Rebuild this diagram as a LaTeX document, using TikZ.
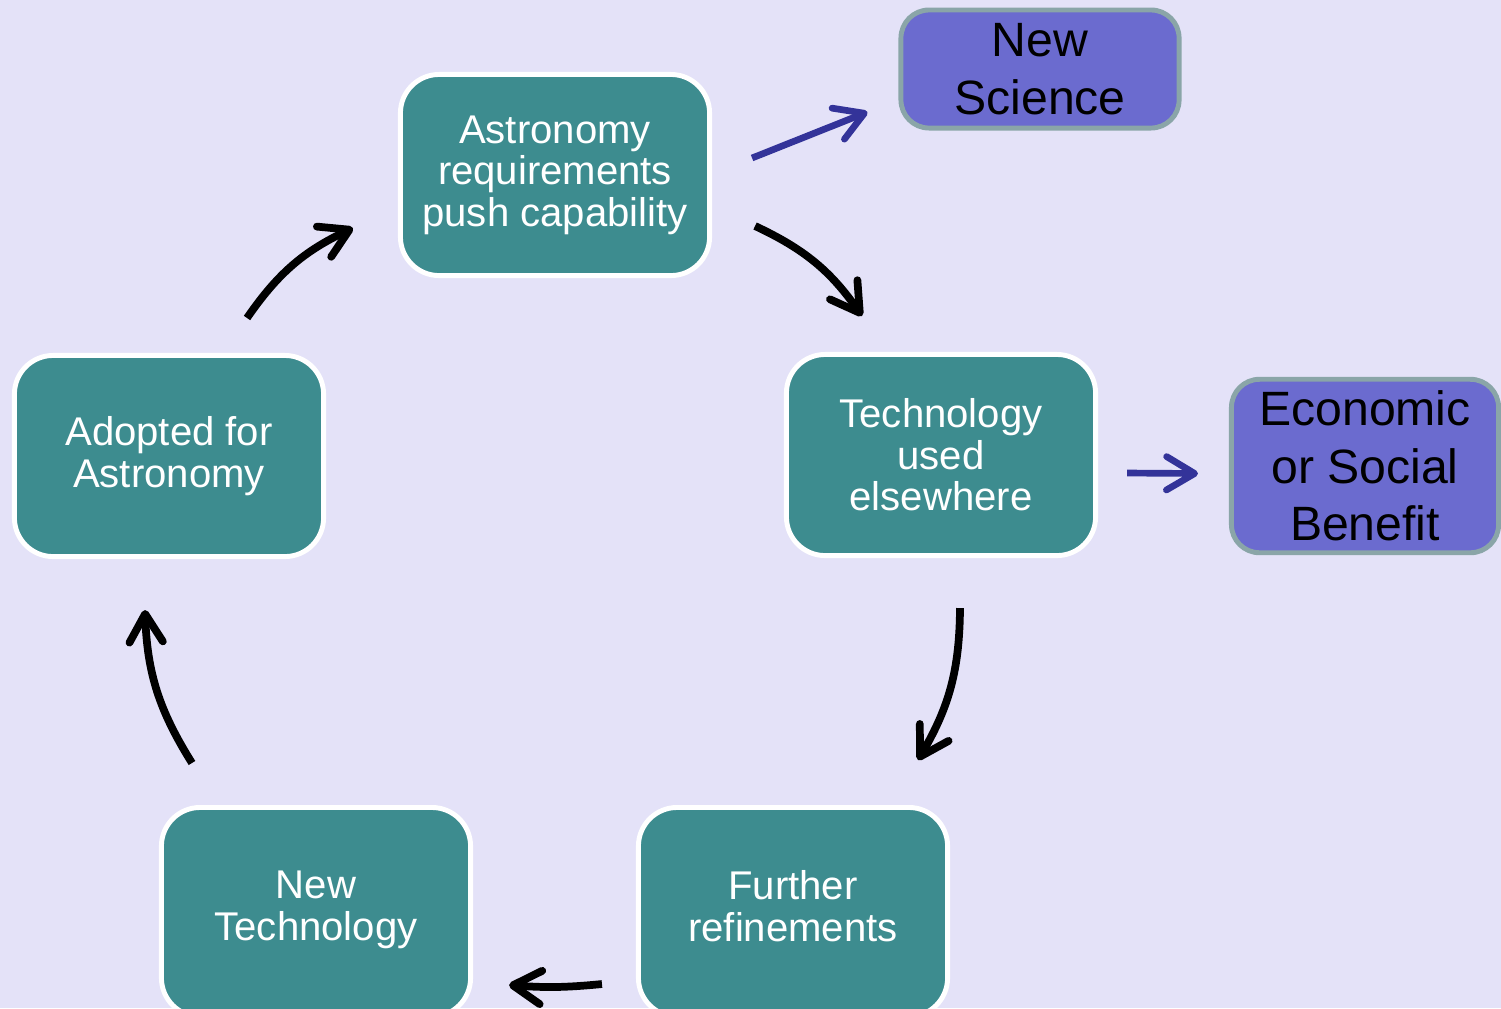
\documentclass[tikz,border=0pt]{standalone}
\usepackage{fontspec}
\setmainfont{Liberation Sans}
\usetikzlibrary{arrows.meta,calc}

\definecolor{bgcol}{HTML}{E4E2F8}
\definecolor{tealbox}{HTML}{3D8C8F}
\definecolor{purplebox}{HTML}{6B6BCF}
\definecolor{greyrim}{HTML}{8AA5A8}
\definecolor{bluearrow}{HTML}{333399}

\tikzset{
	cycstep/.style={draw=white, line width=1.4pt, fill=tealbox, rounded corners=11pt,
		minimum width=3.09cm, minimum height=2.01cm, align=center, text=white,
		font=\fontsize{11.4}{11.8}\selectfont},
	outcome/.style={draw=greyrim, line width=1.4pt, fill=purplebox, rounded corners=8pt,
		align=center, font=\fontsize{13.7}{16.3}\selectfont},
	cycarrow/.style={line width=2.2pt,
		-{Straight Barb[length=8pt,width=9.5pt,round]}},
	sidearrow/.style={cycarrow, draw=bluearrow, line width=1.9pt}
}

\begin{document}
\begin{tikzpicture}[x=0.01cm, y=-0.01cm]
	\fill[bgcol] (0,0) rectangle (1501,1008);
	\useasboundingbox (0,0) rectangle (1501,1008);
	% the cycle
	\node[cycstep] (astro) at (555,175) {Astronomy\\requirements\\push capability};
	\node[cycstep] (tech) at (941,455) {Technology\\used\\elsewhere};
	\node[cycstep, minimum height=2.09cm] (refine) at (793,912) {Further\\refinements\strut};
	\node[cycstep, minimum height=2.09cm] (newtech) at (316,912) {New\\Technology\strut};
	\node[cycstep] (adopted) at (169,456) {Adopted for\\Astronomy};
	% outcomes
	\node[outcome, minimum width=2.78cm, minimum height=1.18cm] (science) at (1040,69) {New\\Science};
	\node[outcome, minimum width=2.67cm, minimum height=1.64cm] (benefit) at (1365,466) {Economic\\or Social\\Benefit};
	% cycle arrows
	\draw[cycarrow] ($(adopted.north)+(78,-35)$) to[bend left=15] ($(astro.west)+(-45,53)$);
	\draw[cycarrow] ($(astro.east)+(43,51)$) to[bend left=15] ($(tech.north)+(-79,-36)$);
	\draw[cycarrow] ($(tech.south)+(19,50)$) to[bend left=15] ($(refine.north)+(125,-45)$);
	\draw[cycarrow] ($(refine.west)+(-34,72)$) to[bend left=5] ($(newtech.east)+(36,73)$);
	\draw[cycarrow] ($(newtech.north)+(-124,-42)$) to[bend left=15] ($(adopted.south)+(-24,51)$);
	% side arrows
	\draw[sidearrow] ($(astro.east)+(40,-17)$) -- ($(science.west)+(-31,43)$);
	\draw[sidearrow] ($(tech.east)+(29,18)$) -- ($(benefit.west)+(-31,7.5)$);
\end{tikzpicture}
\end{document}
